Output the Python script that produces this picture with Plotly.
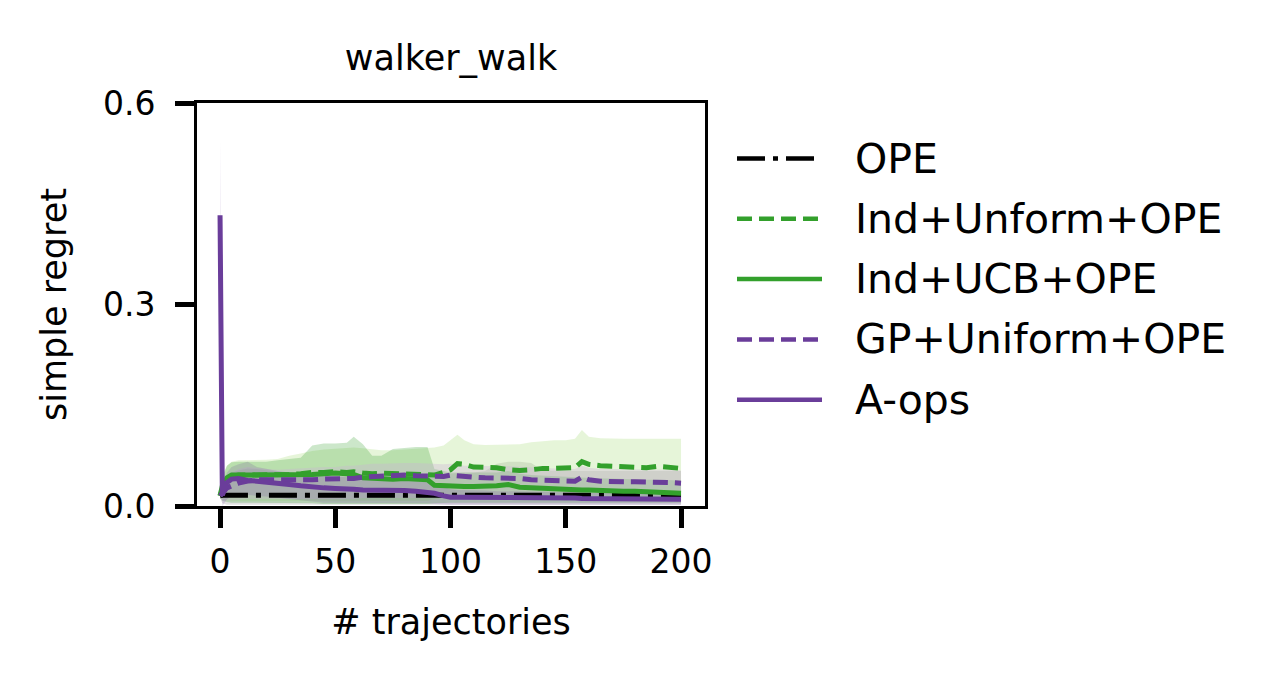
import plotly.graph_objects as go

# trajectories axis (x) sample points
steps = [0, 1, 3, 5, 8, 12, 16, 20, 25, 30, 35, 40, 45, 50, 55, 58, 62, 66, 70, 75,
         80, 85, 90, 93, 97, 100, 103, 106, 110, 115, 120, 125, 130, 135, 140, 145, 150,
         154, 157, 160, 165, 170, 175, 180, 185, 190, 195, 200]

ope_mean = [0.015, 0.016, 0.016, 0.016, 0.016, 0.016, 0.016, 0.016, 0.016, 0.016, 0.016, 0.016,
            0.016, 0.016, 0.016, 0.016, 0.016, 0.016, 0.016, 0.016, 0.016, 0.016, 0.016, 0.016,
            0.016, 0.016, 0.017, 0.017, 0.017, 0.017, 0.017, 0.017, 0.017, 0.017, 0.017, 0.016,
            0.016, 0.016, 0.016, 0.016, 0.016, 0.016, 0.016, 0.016, 0.016, 0.016, 0.016, 0.016]
ope_lo = [0.012, 0.004, 0.002, 0.002, 0.002, 0.002, 0.002, 0.002, 0.002, 0.002, 0.002, 0.002,
          0.002, 0.002, 0.002, 0.002, 0.002, 0.002, 0.002, 0.002, 0.002, 0.002, 0.002, 0.002,
          0.002, 0.002, 0.002, 0.002, 0.002, 0.002, 0.002, 0.002, 0.002, 0.002, 0.002, 0.002,
          0.002, 0.002, 0.002, 0.002, 0.002, 0.002, 0.002, 0.002, 0.002, 0.002, 0.002, 0.002]
ope_hi = [0.018, 0.03, 0.045, 0.05, 0.053, 0.056, 0.055, 0.053, 0.051, 0.05, 0.049, 0.048,
          0.048, 0.048, 0.047, 0.047, 0.046, 0.046, 0.046, 0.046, 0.046, 0.046, 0.046, 0.045,
          0.047, 0.048, 0.05, 0.05, 0.05, 0.052, 0.063, 0.066, 0.066, 0.064, 0.053, 0.052,
          0.052, 0.052, 0.052, 0.052, 0.052, 0.052, 0.052, 0.052, 0.052, 0.052, 0.052, 0.052]

ind_uni_mean = [0.015, 0.025, 0.038, 0.044, 0.046, 0.046, 0.046, 0.046, 0.046, 0.047, 0.048, 0.050,
                0.050, 0.051, 0.050, 0.051, 0.049, 0.048, 0.049, 0.048, 0.047, 0.046, 0.046, 0.046,
                0.050, 0.054, 0.063, 0.062, 0.058, 0.058, 0.057, 0.054, 0.053, 0.054, 0.056, 0.056,
                0.057, 0.057, 0.066, 0.062, 0.060, 0.059, 0.058, 0.058, 0.057, 0.059, 0.057, 0.056]
ind_uni_lo = [0.012, 0.01, 0.008, 0.008, 0.008, 0.008, 0.008, 0.008, 0.008, 0.008, 0.008, 0.008,
              0.008, 0.008, 0.008, 0.008, 0.008, 0.008, 0.008, 0.008, 0.008, 0.008, 0.008, 0.01,
              0.012, 0.014, 0.016, 0.016, 0.016, 0.016, 0.016, 0.016, 0.016, 0.016, 0.016, 0.016,
              0.016, 0.016, 0.018, 0.018, 0.016, 0.016, 0.016, 0.016, 0.016, 0.016, 0.016, 0.016]
ind_uni_hi = [0.018, 0.04, 0.06, 0.066, 0.068, 0.068, 0.068, 0.069, 0.07, 0.075, 0.078, 0.082,
              0.084, 0.085, 0.086, 0.087, 0.086, 0.084, 0.083, 0.083, 0.084, 0.085, 0.086, 0.087,
              0.09, 0.098, 0.106, 0.098, 0.092, 0.091, 0.091, 0.091, 0.092, 0.095, 0.097, 0.098,
              0.098, 0.1, 0.113, 0.103, 0.101, 0.1, 0.1, 0.1, 0.1, 0.1, 0.101, 0.1]

ind_ucb_mean = [0.015, 0.03, 0.042, 0.046, 0.046, 0.046, 0.046, 0.046, 0.046, 0.046, 0.047, 0.047,
                0.048, 0.049, 0.048, 0.047, 0.042, 0.041, 0.041, 0.040, 0.041, 0.040, 0.039, 0.031,
                0.030, 0.030, 0.029, 0.029, 0.029, 0.029, 0.030, 0.032, 0.028, 0.027, 0.026, 0.026,
                0.025, 0.025, 0.024, 0.024, 0.023, 0.023, 0.022, 0.022, 0.021, 0.021, 0.020, 0.019]
ind_ucb_lo = [0.012, 0.008, 0.006, 0.005, 0.005, 0.005, 0.005, 0.005, 0.005, 0.005, 0.005, 0.004,
              0.003, 0.003, 0.002, 0.002, 0.002, 0.002, 0.003, 0.003, 0.003, 0.003, 0.003, 0.004,
              0.005, 0.005, 0.005, 0.005, 0.005, 0.005, 0.005, 0.005, 0.005, 0.005, 0.005, 0.005,
              0.005, 0.005, 0.005, 0.005, 0.005, 0.005, 0.005, 0.005, 0.005, 0.005, 0.005, 0.005]
ind_ucb_hi = [0.018, 0.045, 0.06, 0.065, 0.066, 0.066, 0.066, 0.066, 0.068, 0.07, 0.072, 0.09,
              0.093, 0.093, 0.094, 0.103, 0.092, 0.075, 0.075, 0.085, 0.087, 0.088, 0.088, 0.055,
              0.052, 0.05, 0.05, 0.05, 0.05, 0.05, 0.05, 0.052, 0.048, 0.046, 0.045, 0.044,
              0.043, 0.043, 0.042, 0.042, 0.041, 0.041, 0.040, 0.040, 0.039, 0.039, 0.038, 0.038]

gp_uni_mean = [0.015, 0.02, 0.027, 0.03, 0.034, 0.037, 0.039, 0.039, 0.039, 0.038, 0.038, 0.039,
               0.040, 0.040, 0.041, 0.041, 0.043, 0.044, 0.044, 0.045, 0.046, 0.045, 0.044, 0.043,
               0.044, 0.046, 0.045, 0.043, 0.043, 0.042, 0.042, 0.042, 0.041, 0.039, 0.038, 0.037,
               0.037, 0.037, 0.043, 0.039, 0.037, 0.036, 0.036, 0.036, 0.036, 0.035, 0.035, 0.034]
gp_uni_lo = [0.012, 0.008, 0.008, 0.008, 0.009, 0.01, 0.01, 0.01, 0.01, 0.01, 0.01, 0.01,
             0.01, 0.01, 0.01, 0.01, 0.012, 0.012, 0.012, 0.012, 0.012, 0.012, 0.012, 0.012,
             0.012, 0.014, 0.014, 0.014, 0.014, 0.014, 0.014, 0.014, 0.014, 0.014, 0.014, 0.014,
             0.014, 0.014, 0.016, 0.016, 0.016, 0.016, 0.016, 0.016, 0.016, 0.016, 0.016, 0.016]
gp_uni_hi = [0.018, 0.032, 0.046, 0.05, 0.055, 0.058, 0.056, 0.055, 0.054, 0.055, 0.056, 0.058,
             0.058, 0.058, 0.06, 0.06, 0.062, 0.063, 0.063, 0.064, 0.064, 0.064, 0.063, 0.062,
             0.062, 0.063, 0.062, 0.06, 0.06, 0.059, 0.059, 0.059, 0.058, 0.057, 0.056, 0.055,
             0.055, 0.055, 0.06, 0.057, 0.055, 0.055, 0.055, 0.055, 0.055, 0.054, 0.054, 0.053]

aops_mean = [0.433, 0.016, 0.035, 0.040, 0.041, 0.038, 0.037, 0.036, 0.034, 0.032, 0.030, 0.028,
             0.027, 0.026, 0.026, 0.025, 0.024, 0.024, 0.024, 0.023, 0.023, 0.022, 0.021, 0.019,
             0.015, 0.013, 0.013, 0.013, 0.013, 0.013, 0.013, 0.012, 0.012, 0.012, 0.012, 0.012,
             0.012, 0.012, 0.011, 0.011, 0.011, 0.011, 0.011, 0.010, 0.010, 0.010, 0.010, 0.010]
aops_lo = [0.33, 0.0, 0.01, 0.015, 0.018, 0.016, 0.015, 0.014, 0.012, 0.01, 0.008, 0.006,
           0.005, 0.005, 0.005, 0.004, 0.004, 0.004, 0.004, 0.004, 0.004, 0.004, 0.004, 0.003,
           0.002, 0.002, 0.002, 0.002, 0.002, 0.002, 0.002, 0.002, 0.002, 0.002, 0.002, 0.002,
           0.002, 0.002, 0.002, 0.002, 0.002, 0.002, 0.002, 0.002, 0.002, 0.002, 0.002, 0.002]
aops_hi = [0.545, 0.032, 0.05, 0.058, 0.062, 0.066, 0.058, 0.055, 0.052, 0.05, 0.048, 0.046,
           0.045, 0.044, 0.043, 0.042, 0.041, 0.04, 0.04, 0.039, 0.038, 0.037, 0.036, 0.033,
           0.028, 0.025, 0.024, 0.024, 0.023, 0.023, 0.022, 0.022, 0.022, 0.021, 0.021, 0.021,
           0.02, 0.02, 0.02, 0.02, 0.02, 0.019, 0.019, 0.019, 0.018, 0.018, 0.018, 0.018]

labels = ['OPE', 'Ind+Unform+OPE', 'Ind+UCB+OPE', 'GP+Uniform+OPE', 'A-ops']
y_ticks = [0.0, 0.3, 0.6]
x_ticks = [0, 50, 100, 150, 200]

GREEN = '#33a02c'
PURPLE = '#6a3d9a'
FONT = 'DejaVu Sans'

series = [
    (ope_mean, ope_lo, ope_hi, 'black', '28px,8px,5px,8px', 'rgba(0,0,0,0.12)'),
    (ind_uni_mean, ind_uni_lo, ind_uni_hi, GREEN, '15px,7px', 'rgba(178,223,138,0.32)'),
    (ind_ucb_mean, ind_ucb_lo, ind_ucb_hi, GREEN, 'solid', 'rgba(51,160,44,0.25)'),
    (gp_uni_mean, gp_uni_lo, gp_uni_hi, PURPLE, '15px,7px', 'rgba(202,178,214,0.35)'),
    (aops_mean, aops_lo, aops_hi, PURPLE, 'solid', 'rgba(106,61,154,0.18)'),
]

fig = go.Figure()

# shaded bands first
for mean, lo, hi, color, dash, band in series:
    fig.add_trace(go.Scatter(x=steps, y=lo, mode='lines', line=dict(width=0),
                             showlegend=False, hoverinfo='skip'))
    fig.add_trace(go.Scatter(x=steps, y=hi, mode='lines', line=dict(width=0),
                             fill='tonexty', fillcolor=band,
                             showlegend=False, hoverinfo='skip'))

# mean curves on top
for (mean, lo, hi, color, dash, band), name in zip(series, labels):
    fig.add_trace(go.Scatter(x=steps, y=mean, mode='lines', name=name,
                             line=dict(color=color, width=5, dash=dash),
                             showlegend=False))

# page pixels of the axes box; the page body has an 8px margin
OFF = 8
W, H = 1285 - 2 * OFF, 682 - 2 * OFF
L, R, T, B = 197, 705, 103, 506


def px_x(p):
    return (p - L) / (R - L)


def px_y(p):
    return (B - p) / (B - T)


# hand-made legend to the right of the axes
for i, ((mean, lo, hi, color, dash, band), name) in enumerate(zip(series, labels)):
    yy = 158.5 + 60.3 * i
    fig.add_shape(type='line', xref='paper', yref='paper',
                  x0=px_x(737), x1=px_x(822), y0=px_y(yy), y1=px_y(yy),
                  line=dict(color=color, width=4.5, dash=dash))
    fig.add_annotation(x=px_x(853), y=px_y(yy), xref='paper', yref='paper',
                       text=name, showarrow=False, xanchor='left', yanchor='middle',
                       font=dict(family=FONT, size=41, color='black'))

fig.update_layout(
    width=W, height=H,
    margin=dict(l=L - OFF, r=W + OFF - R, t=T - OFF, b=H + OFF - B),
    paper_bgcolor='white', plot_bgcolor='white',
    font=dict(family=FONT, size=33, color='black'),
    title=dict(text='walker_walk', xref='paper', x=0.5, xanchor='center',
               y=1 - (58 - OFF) / H, yanchor='middle', font=dict(size=35)),
)

fig.update_xaxes(
    range=[-10, 210.4], tickvals=x_ticks, ticks='outside', ticklen=19, tickwidth=5,
    tickcolor='black', ticklabelstandoff=5,
    showline=True, linewidth=3, linecolor='black', mirror=True, showgrid=False,
    zeroline=False, title=dict(text='# trajectories', standoff=30, font=dict(size=35)),
)
fig.update_yaxes(
    range=[0, 0.6], tickvals=y_ticks, tickformat='.1f', ticks='outside', ticklen=19,
    tickwidth=5, tickcolor='black', ticklabelstandoff=13, showline=True, linewidth=3,
    linecolor='black', mirror=True, showgrid=False, zeroline=False,
    title=dict(text='simple regret', standoff=26, font=dict(size=35)),
)

fig.write_html('out.html')
